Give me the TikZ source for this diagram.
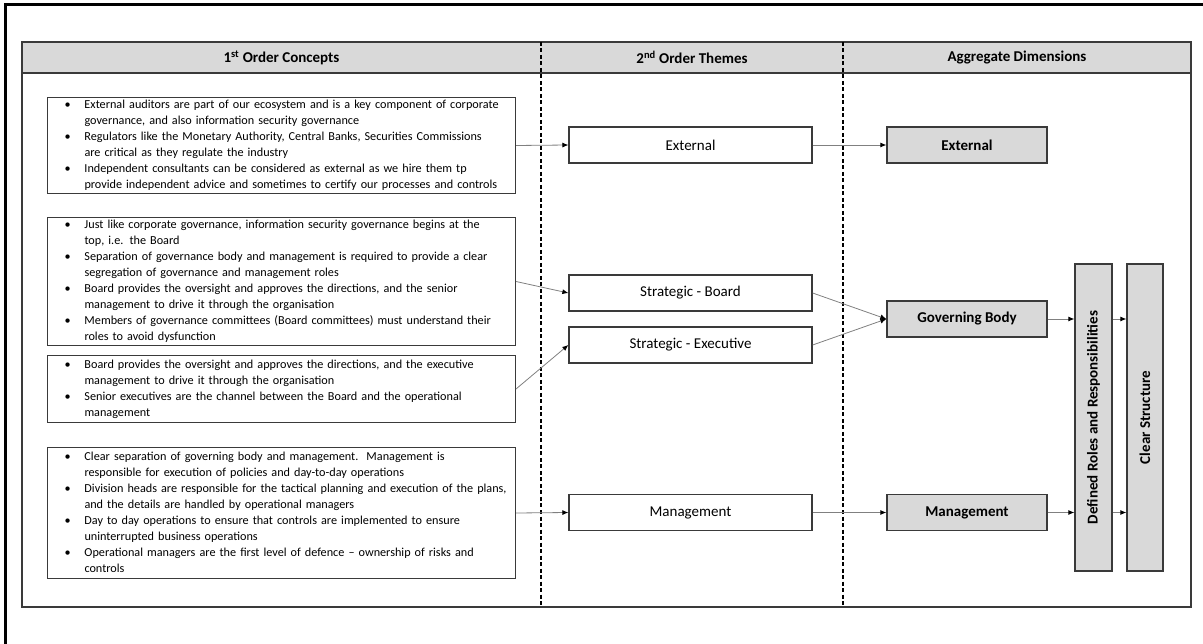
\documentclass[tikz,border=0pt]{standalone}
\usepackage{fontspec}
\setmainfont{Carlito}
\usepackage{graphicx}
\usetikzlibrary{arrows.meta}
\definecolor{hdrgray}{HTML}{D9D9D9}
\definecolor{edgegray}{HTML}{3A3A3A}
\definecolor{linkgray}{HTML}{808080}

\begin{document}
\begin{tikzpicture}[x=1pt,y=-1pt,
  header/.style={font=\bfseries\fontsize{15}{18}\selectfont},
  concept/.style={draw=edgegray, line width=1pt, anchor=north west, inner xsep=17pt, inner ysep=0pt, text width=434pt, align=left, font=\fontsize{12.2}{16}\selectfont},
  theme/.style={draw=edgegray, line width=1.3pt, minimum width=243pt, minimum height=36pt, inner sep=0pt, font=\fontsize{15}{18}\selectfont},
  dimension/.style={draw=edgegray, fill=hdrgray, line width=1.3pt, minimum width=160pt, minimum height=36pt, inner sep=0pt, font=\bfseries\fontsize{15}{18}\selectfont},
  pillar/.style={dimension, minimum width=37pt, minimum height=307pt},
  divider/.style={black, line width=1.3pt, dash pattern=on 4pt off 2.5pt},
  link/.style={draw=linkgray, line width=0.8pt, -{Latex[length=6pt,width=5pt,color=black]}}]
  \useasboundingbox (0,0) rectangle (1203,644);
  \draw[line width=3pt] (5,644) -- (5,5) -- (1203,5);
  \fill[hdrgray] (22,42) rectangle (1191,73);
  \draw[edgegray, line width=1.2pt] (22,42) rectangle (1191,607);
  \draw[edgegray, line width=1.2pt] (22,73) -- (1191,73);
  \draw[divider] (541,42) -- (541,607);
  \draw[divider] (843,42) -- (843,607);
  \node[header] (h1) at (281.5,57.5) {1\textsuperscript{st} Order Concepts};
  \node[header] (h2) at (692,57.5) {2\textsuperscript{nd} Order Themes};
  \node[header] (h3) at (1017,57.5) {Aggregate Dimensions};

  \node[concept, minimum height=96pt] (c1) at (47,97) {\begin{tabular}{@{}p{20pt}@{}l@{}}
    \textbullet & External auditors are part of our ecosystem and is a key component of corporate\\
    & governance, and also information security governance\\
    \textbullet & Regulators like the Monetary Authority, Central Banks, Securities Commissions\\
    & are critical as they regulate the industry\\
    \textbullet & Independent consultants can be considered as external as we hire them tp\\
    & provide independent advice and sometimes to certify our processes and controls
  \end{tabular}};
  \node[concept, minimum height=128pt] (c2) at (47,217) {\begin{tabular}{@{}p{20pt}@{}l@{}}
    \textbullet & Just like corporate governance, information security governance begins at the\\
    & top, i.e. the Board\\
    \textbullet & Separation of governance body and management is required to provide a clear\\
    & segregation of governance and management roles\\
    \textbullet & Board provides the oversight and approves the directions, and the senior\\
    & management to drive it through the organisation\\
    \textbullet & Members of governance committees (Board committees) must understand their\\
    & roles to avoid dysfunction
  \end{tabular}};
  \node[concept, minimum height=67pt] (c3) at (47,355) {\begin{tabular}{@{}p{20pt}@{}l@{}}
    \textbullet & Board provides the oversight and approves the directions, and the executive\\
    & management to drive it through the organisation\\
    \textbullet & Senior executives are the channel between the Board and the operational\\
    & management
  \end{tabular}};
  \node[concept, minimum height=131pt] (c4) at (47,447) {\begin{tabular}{@{}p{20pt}@{}l@{}}
    \textbullet & Clear separation of governing body and management.\ \ Management is\\
    & responsible for execution of policies and day-to-day operations\\
    \textbullet & Division heads are responsible for the tactical planning and execution of the plans,\\
    & and the details are handled by operational managers\\
    \textbullet & Day to day operations to ensure that controls are implemented to ensure\\
    & uninterrupted business operations\\
    \textbullet & Operational managers are the first level of defence -- ownership of risks and\\
    & controls
  \end{tabular}};

  \node[theme] (tExt) at (690.5,145) {External};
  \node[theme] (tBoard) at (690.5,293) {Strategic - Board};
  \node[theme] (tExec) at (690.5,345) {Strategic - Executive};
  \node[theme] (tMgmt) at (690.5,512.5) {Management};

  \node[dimension] (aExt) at (967,145) {External};
  \node[dimension] (aGov) at (967,319) {Governing Body};
  \node[dimension] (aMgmt) at (967,512.5) {Management};
  \node[pillar] (roles) at (1093.5,417.5) {\rotatebox{90}{Defined Roles and Responsibilities}};
  \node[pillar, minimum width=36pt] (clear) at (1145,417.5) {\rotatebox{90}{Clear Structure}};

  \draw[link] (c1.east) -- (tExt.west);
  \draw[link] (c2.east) -- (tBoard.west);
  \draw[link] (c3.east) -- (tExec.west);
  \draw[link] (c4.east) -- (tMgmt.west);
  \draw[link] (tExt.east) -- (aExt.west);
  \draw[link] (tBoard.east) -- (aGov.west);
  \draw[link] (tExec.east) -- (aGov.west);
  \draw[link] (tMgmt.east) -- (aMgmt.west);
  \draw[link] (aGov.east) -- (aGov.east -| roles.west);
  \draw[link] (aMgmt.east) -- (aMgmt.east -| roles.west);
  \draw[link] (aGov.east -| roles.east) -- (aGov.east -| clear.west);
  \draw[link] (aMgmt.east -| roles.east) -- (aMgmt.east -| clear.west);
\end{tikzpicture}
\end{document}
